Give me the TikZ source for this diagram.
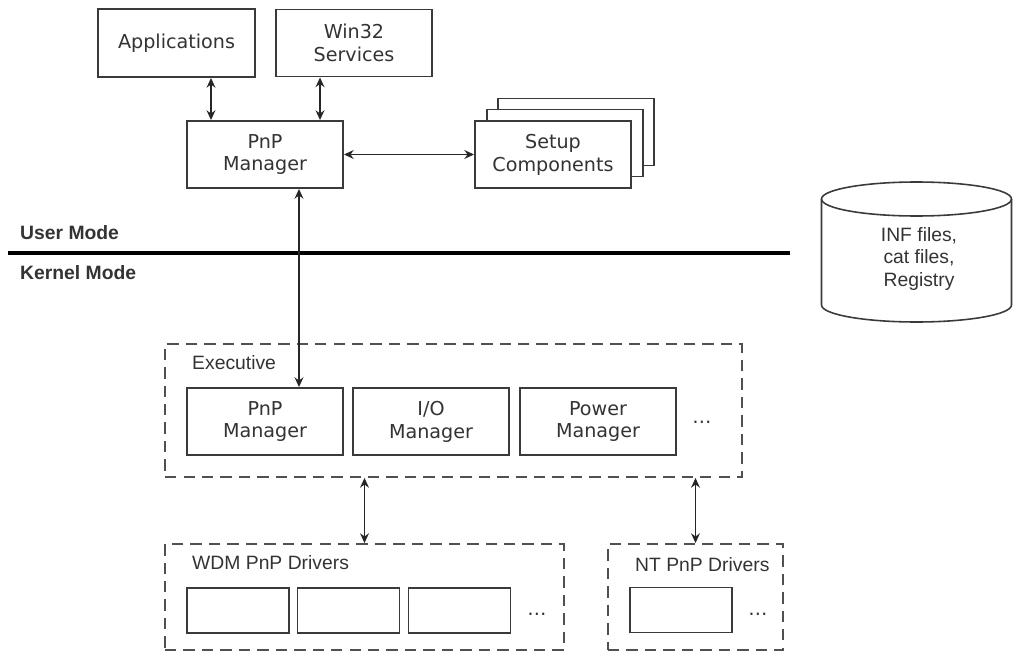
\documentclass[tikz,border=0pt]{standalone}
\usepackage{fontspec}
\setmainfont{DejaVu Sans}
\newfontfamily\arialfont{Liberation Sans}
\usetikzlibrary{arrows.meta}
\definecolor{edge}{HTML}{3A3A3A}
\definecolor{ink}{HTML}{333333}
\definecolor{zoneline}{HTML}{505050}

\begin{document}
\begin{tikzpicture}[x=0.02cm,y=-0.02cm,
  every node/.style={text=ink,font=\fontsize{10.9}{13}\selectfont,align=center},
  box/.style={draw=edge,line width=1.1pt,fill=white,minimum width=3.12cm,minimum height=1.34cm,inner sep=0pt},
  drv/.style={draw=edge,line width=1.1pt,minimum width=2.04cm,minimum height=0.9cm,inner sep=0pt},
  zone/.style={draw=zoneline,line width=1.1pt,dash pattern=on 6.5pt off 4pt,minimum height=2.12cm,inner sep=0pt},
  lbl/.style={anchor=west,font=\arialfont\fontsize{11}{13}\selectfont},
  link/.style={draw=black!85,line width=1pt,{Stealth[length=5.5pt,width=5pt]}-{Stealth[length=5.5pt,width=5pt]}}]
\useasboundingbox (0,0) rectangle (1013,652);
% User mode side
\node[box,minimum width=3.14cm,minimum height=1.36cm] (apps) at (176.5,43) {Applications};
\node[box] (win) at (354,43) {Win32\\Services};
\node[box] (pnpu) at (265,154.5) {PnP\\Manager};
\node[box] (setup3) at (576,132) {};
\node[box] (setup2) at (565,143) {};
\node[box] (setup) at (553,154.5) {Setup\\Components};
\coordinate (a1) at ([xshift=0.69cm]apps.south);
\coordinate (a2) at ([xshift=-0.68cm]win.south);
\draw[link] (a1) -- (a1 |- pnpu.north);
\draw[link] (a2) -- (a2 |- pnpu.north);
\draw[link] (pnpu.east) -- (setup.west);
% Mode border
\draw[line width=2.3pt] (8,253) -- (790,253);
\node[lbl,font=\arialfont\bfseries\fontsize{11}{13}\selectfont] (umode) at (14,233) {User Mode};
\node[lbl,font=\arialfont\bfseries\fontsize{11}{13}\selectfont] (kmode) at (14,273) {Kernel Mode};
% Store
\draw[draw=edge,line width=0.9pt] (821.5,199) -- (821.5,305) arc[start angle=180,end angle=360,x radius=1.9cm,y radius=0.34cm] -- (1011.5,199);
\draw[draw=edge,line width=0.9pt] (916.5,199) ellipse [x radius=1.9cm,y radius=0.34cm];
\node[font=\arialfont\fontsize{11}{12.8}\selectfont] (store) at (919,259) {INF files,\\cat files,\\Registry};
% Executive
\node[zone,minimum width=11.54cm,minimum height=2.66cm] (exec) at (453.5,410.5) {};
\node[lbl] (exectxt) at (186,363) {Executive};
\node[box] (pnpk) at (265,421.5) {PnP\\Manager};
\node[box] (io) at (431,421.5) {I/O\\Manager};
\node[box] (pwr) at (598,421.5) {Power\\Manager};
\node (edots) at (702,422) {…};
\draw[link] ([xshift=0.68cm]pnpu.south) -- ([xshift=0.68cm]pnpk.north);
% Drivers
\node[zone,minimum width=7.98cm] (wdm) at (364.5,597) {};
\node[zone,minimum width=3.5cm] (nt) at (695.5,597) {};
\node[lbl] (wdmtxt) at (186,563) {WDM PnP Drivers};
\node[lbl] (nttxt) at (629,565) {NT PnP Drivers};
\foreach \x [count=\i] in {238,348.5,459.5} \node[drv] (w\i) at (\x,610.5) {};
\node (wdots) at (537,614) {…};
\node[drv] (n1) at (681,610) {};
\node (ndots) at (758,614) {…};
\draw[link] (wdm.north |- exec.south) -- (wdm.north);
\draw[link] (nt.north |- exec.south) -- (nt.north);
\end{tikzpicture}
\end{document}
